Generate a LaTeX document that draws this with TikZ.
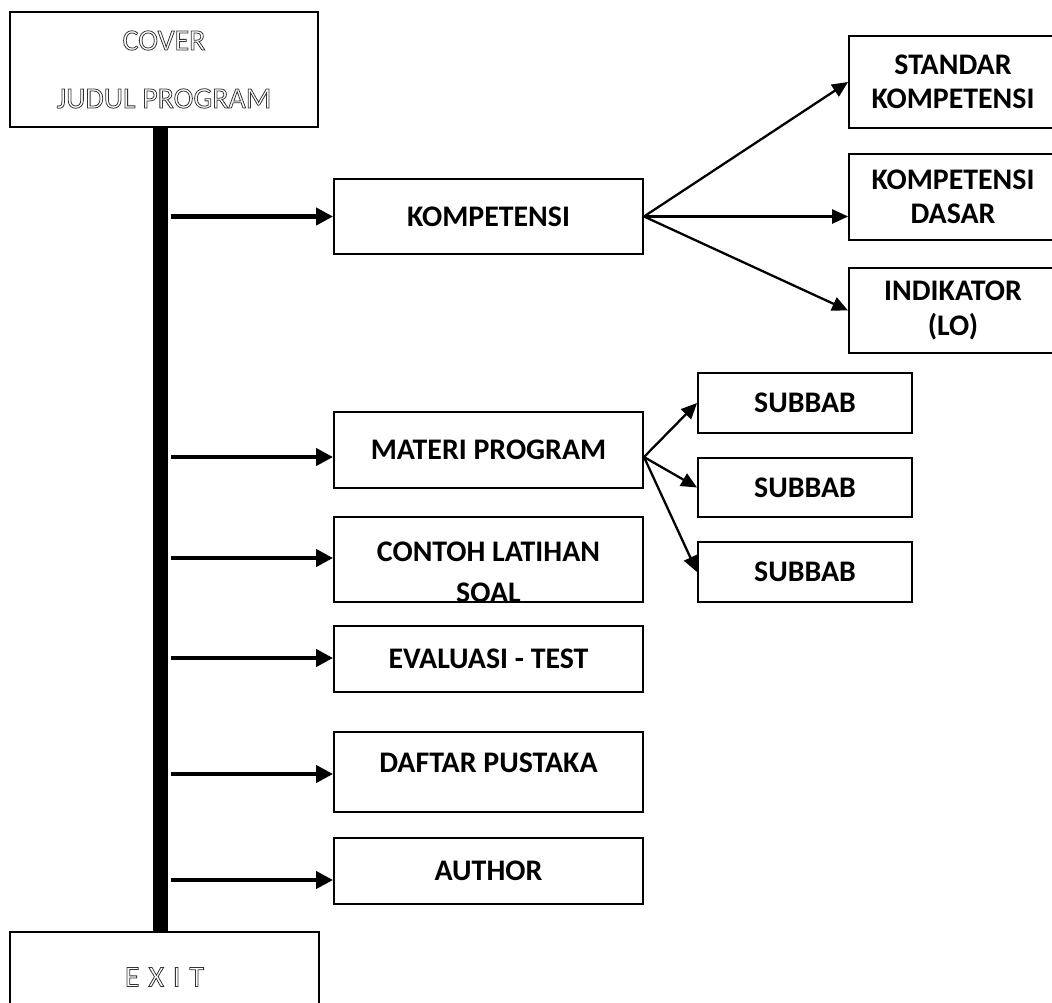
\documentclass[tikz,border=0pt]{standalone}
\usepackage{fontspec}
\setmainfont{Carlito}
\usetikzlibrary{arrows.meta}

% hollow (stroked only) lettering
\newcommand\hollow[1]{\special{pdf:literal direct 1 Tr 0.45 w 0.2 G}#1\special{pdf:literal direct 0 Tr 0 G}}
\newcommand\boxfont{\fontsize{17pt}{19.5pt}\selectfont\bfseries}

\begin{document}
\begin{tikzpicture}
[x=0.2mm,y=-0.2mm,
  boxDecorate/.style={draw,line width=1.1pt,inner sep=0pt,align=center,font=\boxfont},
  barDecorate/.style={line width=8.5pt},
  mainArrow/.style={line width=2.3pt,-{Triangle[length=9.6pt,width=9.6pt]}},
  subArrow/.style={line width=1.3pt,-{Triangle[length=9pt,width=8pt]}}]
\useasboundingbox (0,0) rectangle (1052,1003);
%% boxes
\foreach \nodename/\x/\y/\w/\h/\txt in {
  kompetensi/488.5/216.5/309/75/KOMPETENSI,
  materi/488.5/450/309/76/MATERI PROGRAM,
  evaluasi/488.5/659/309/66/EVALUASI - TEST,
  daftar/488.5/772/309/80/{\raisebox{11pt}{DAFTAR PUSTAKA}},
  author/488.5/871/309/66/AUTHOR,
  standar/953/82/208/92/{STANDAR\\KOMPETENSI},
  dasar/953/197/208/86/{KOMPETENSI\\DASAR},
  indikator/953/310.5/208/85/{INDIKATOR\\(LO)},
  subbab1/805/403/214/60/SUBBAB,
  subbab2/805/487.5/214/59/SUBBAB,
  subbab3/805/572/214/60/SUBBAB}
{
  \node (\nodename) at (\x,\y) [boxDecorate,minimum width=\w*0.2mm,minimum height=\h*0.2mm] {\txt};
}
\node (contoh) at (488.5,559.5) [boxDecorate,minimum width=309*0.2mm,minimum height=85*0.2mm,
  path picture={\node (contohtext) [align=center,font=\boxfont]
    at ([yshift=-2.6mm]path picture bounding box.center) {CONTOH LATIHAN\\[4pt]SOAL};}] {};
\node (cover) at (164,69.5) [boxDecorate,minimum width=308*0.2mm,minimum height=115*0.2mm,
  font=\fontsize{17pt}{20pt}\selectfont] {\raisebox{-3pt}{\hollow{COVER}}\\[16pt]\hollow{JUDUL PROGRAM}};
\node (exit) at (164.5,977) [boxDecorate,minimum width=309*0.2mm,minimum height=90*0.2mm,
  font=\fontsize{17pt}{20pt}\selectfont] {\addfontfeature{LetterSpace=30}\hollow{EXIT}};
%% main bar
\coordinate (bar) at (160.5,0);
\coordinate (from) at (171,0);
\draw[barDecorate] (cover.south -| bar) -- (exit.north -| bar);
%% arrows off the bar
\foreach \nodename/\dy in {
  kompetensi/0mm, materi/-1.4mm, contoh/0.3mm,
  evaluasi/0.2mm, daftar/-0.4mm, author/-1.8mm}
{
  \coordinate (tip) at ([yshift=\dy]\nodename.west);
  \draw[mainArrow] (tip -| from) -- (tip);
}
%% branches
\coordinate (materiout) at ([yshift=-1.4mm]materi.east);
\foreach \startnode/\endnode in {
  kompetensi.east/standar.west, kompetensi.east/indikator.west,
  materiout/subbab1.west, materiout/subbab2.west, materiout/subbab3.west}
{
  \draw[subArrow] (\startnode) -- (\endnode);
}
\draw[subArrow] (kompetensi.east) -- (kompetensi.east -| dasar.west);
\end{tikzpicture}
\end{document}
